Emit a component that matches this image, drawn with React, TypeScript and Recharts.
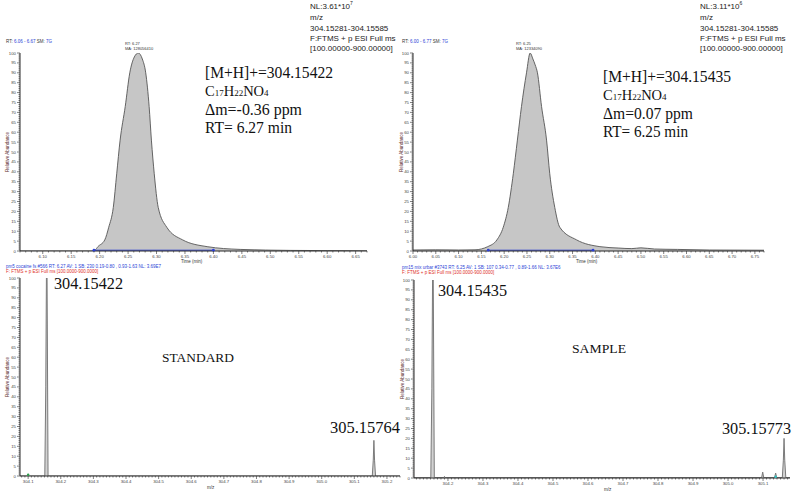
import React from 'react'
import { Area, AreaChart, ReferenceDot, ReferenceLine, XAxis, YAxis } from 'recharts'

// extracted ion chromatograms (time in min, relative abundance in %)
const stdTime = [6.06, 6.1, 6.15, 6.185, 6.192, 6.197, 6.209, 6.216, 6.224, 6.23, 6.236, 6.245, 6.253, 6.261, 6.268, 6.275, 6.281, 6.287, 6.291, 6.296, 6.303, 6.318, 6.346, 6.389, 6.447, 6.535, 6.6, 6.67]
const stdAbund = [0, 0, 0, 0, 0.5, 2.2, 5.6, 12, 22, 39, 56, 73, 90, 98, 100, 97, 90, 73, 56, 39, 22, 12, 5.6, 2.2, 0.8, 0.3, 0.2, 0.1]
const sampTime = [6.0, 6.05, 6.1, 6.136, 6.164, 6.184, 6.198, 6.209, 6.22, 6.229, 6.238, 6.249, 6.257, 6.263, 6.268, 6.273, 6.282, 6.293, 6.3, 6.311, 6.322, 6.359, 6.41, 6.45, 6.48, 6.5, 6.53, 6.58, 6.65, 6.77]
const sampAbund = [0.5, 0.6, 0.5, 0.6, 2.2, 5.6, 12, 22, 39, 56, 73, 90, 100, 97, 94, 90, 73, 56, 39, 22, 12, 5.6, 2.2, 1.5, 1.2, 1.6, 1.0, 0.8, 0.5, 0.4]

// mass spectra (m/z, relative abundance in %)
const stdMz = [304.075, 304.151, 304.154, 304.156, 304.158, 304.161, 305.155, 305.158, 305.16, 305.162, 305.165, 305.24]
const stdInt = [0, 0, 45, 100, 100, 0, 0, 8, 18, 8, 0, 0]
const sampMz = [304.103, 304.151, 304.154, 304.156, 304.158, 304.161, 304.188, 304.19, 304.192, 305.096, 305.099, 305.102, 305.133, 305.136, 305.139, 305.155, 305.158, 305.16, 305.162, 305.165, 305.177]
const sampInt = [0.2, 0.2, 45, 100, 100, 0.2, 0.2, 0.8, 0.2, 0.2, 3, 0.2, 0.2, 2.5, 0.2, 0.2, 9, 20, 9, 0.2, 0.2]

const timeLabelsStd = [6.1, 6.15, 6.2, 6.25, 6.3, 6.35, 6.4, 6.45, 6.5, 6.55, 6.6, 6.65]
const timeLabelsSamp = [6.0, 6.05, 6.1, 6.15, 6.2, 6.25, 6.3, 6.35, 6.4, 6.45, 6.5, 6.55, 6.6, 6.65, 6.7, 6.75]
const mzLabelsStd = [304.1, 304.2, 304.3, 304.4, 304.5, 304.6, 304.7, 304.8, 304.9, 305.0, 305.1, 305.2]
const mzLabelsSamp = [304.2, 304.3, 304.4, 304.5, 304.6, 304.7, 304.8, 304.9, 305.0, 305.1]
const yLabels = [0, 5, 10, 15, 20, 25, 30, 35, 40, 45, 50, 55, 60, 65, 70, 75, 80, 85, 90, 95, 100]

const AXIS = '#2a2a2a'
const TICK_FONT = 'Liberation Sans, Arial, sans-serif'
const SERIF = 'Liberation Serif, Times New Roman, serif'

function steps(from: number, to: number, step: number) {
  const out: number[] = []
  const n = Math.round((to - from) / step)
  for (let i = 0; i <= n; i++) out.push(Math.round((from + i * step) * 1000) / 1000)
  return out
}

const isIn = (list: number[], v: number) => list.some((l) => Math.abs(l - v) < 1e-6)

function XTick(props: any) {
  const { x, y, payload, labels, digits } = props
  const major = isIn(labels, payload.value)
  return (
    <g>
      <line x1={x} x2={x} y1={y} y2={y + (major ? 3 : 1.5)} stroke={AXIS} strokeWidth={0.6} />
      {major && (
        <text x={x} y={y + 6.5} textAnchor="middle" fontSize={4.3} fill="#444" fontFamily={TICK_FONT}>
          {payload.value.toFixed(digits)}
        </text>
      )}
    </g>
  )
}

function YTick(props: any) {
  const { x, y, payload } = props
  const major = isIn(yLabels, payload.value)
  return (
    <g>
      <line x1={x} x2={x - (major ? 3 : 1.5)} y1={y} y2={y} stroke={AXIS} strokeWidth={0.6} />
      {major && (
        <text x={x - 4} y={y + 1.5} textAnchor="end" fontSize={4.3} fill="#444" fontFamily={TICK_FONT}>
          {payload.value}
        </text>
      )}
    </g>
  )
}

const yTicks = steps(0, 100, 1)

function Txt({ left, top, size, children, color = '#222', family = TICK_FONT }: any) {
  return (
    <div style={{ position: 'absolute', left, top, fontSize: size, lineHeight: 1.15, color, fontFamily: family, whiteSpace: 'nowrap' }}>
      {children}
    </div>
  )
}

function YTitle({ left, top }: { left: number; top: number }) {
  return (
    <div
      style={{
        position: 'absolute',
        left,
        top,
        transform: 'translate(-50%, -50%) rotate(-90deg)',
        fontSize: 4.5,
        color: '#5a2a2a',
        fontFamily: TICK_FONT,
        whiteSpace: 'nowrap',
      }}
    >
      Relative Abundance
    </div>
  )
}

// serif text squeezed to the measured width
function SText({ x, y, w, size = 16, children }: any) {
  return (
    <text x={x} y={y} fontSize={size} fontFamily={SERIF} fill="#111" textLength={w} lengthAdjust="spacingAndGlyphs">
      {children}
    </text>
  )
}

const sub = { fontSize: '0.62em' }

function Formula({ left, top }: { left: number; top: number }) {
  return (
    <Txt left={left} top={top} size={14.5} family={SERIF} color="#111">
      C<span style={sub}>17</span>H<span style={sub}>22</span>NO<span style={sub}>4</span>
    </Txt>
  )
}

function InfoBlock({ x, y, mass, delta, rt, widths }: any) {
  return (
    <>
      <SText x={x} y={y} w={widths[0]}>[M+H]+={mass}</SText>
      <SText x={x} y={y + 37} w={widths[1]}>Δm={delta} ppm</SText>
      <SText x={x} y={y + 55} w={widths[2]}>RT= {rt} min</SText>
    </>
  )
}

function NLBlock({ left, nl, exp }: any) {
  return (
    <>
      <Txt left={left} top={1} size={8}>NL:{nl}*10<sup style={{ fontSize: 5 }}>{exp}</sup></Txt>
      <Txt left={left} top={13} size={8}>m/z</Txt>
      <Txt left={left} top={24} size={8}>304.15281-304.15585</Txt>
      <Txt left={left} top={34} size={8}>F:FTMS + p ESI Full ms</Txt>
      <Txt left={left} top={44} size={8}>[100.00000-900.00000]</Txt>
    </>
  )
}

function Chromatogram({ time, abund, domain, labels, intStart, intEnd, right }: any) {
  const data = time.map((t: number, i: number) => ({ t, a: abund[i] }))
  const ticks = steps(domain[0], domain[1], 0.01)
  return (
    <AreaChart width={380} height={225} data={data} margin={{ top: 8, right, bottom: 0, left: 0 }}>
      <XAxis
        dataKey="t"
        type="number"
        domain={domain}
        allowDataOverflow
        ticks={ticks}
        interval={0}
        tickLine={false}
        tickSize={0}
        tickMargin={0}
        height={19}
        stroke={AXIS}
        tick={(p: any) => <XTick {...p} labels={labels} digits={2} />}
      />
      <YAxis
        type="number"
        domain={[0, 100]}
        allowDataOverflow
        ticks={yTicks}
        interval={0}
        tickLine={false}
        tickSize={0}
        tickMargin={0}
        width={20}
        stroke={AXIS}
        tick={(p: any) => <YTick {...p} />}
      />
      <Area type="monotone" dataKey="a" stroke="#555" strokeWidth={0.9} fill="#c6c6c6" fillOpacity={1} isAnimationActive={false} />
      <ReferenceLine segment={[{ x: intStart, y: 0.4 }, { x: intEnd, y: 0.4 }]} stroke="#2b3fd6" strokeWidth={1} />
      <ReferenceDot x={intStart} y={0.4} r={1.4} fill="#2b3fd6" stroke="none" />
      <ReferenceDot x={intEnd} y={0.4} r={1.4} fill="#2b3fd6" stroke="none" />
    </AreaChart>
  )
}

function Spectrum({ mz, inten, domain, labels, width, height, right, marks }: any) {
  const data = mz.map((m: number, i: number) => ({ m, v: inten[i] }))
  const ticks = steps(Math.ceil(domain[0] * 100) / 100, Math.floor(domain[1] * 100) / 100, 0.01)
  return (
    <AreaChart width={width} height={height} data={data} margin={{ top: 8, right, bottom: 0, left: 0 }}>
      <XAxis
        dataKey="m"
        type="number"
        domain={domain}
        allowDataOverflow
        ticks={ticks}
        interval={0}
        tickLine={false}
        tickSize={0}
        tickMargin={0}
        height={height - 8 - 198}
        stroke={AXIS}
        tick={(p: any) => <XTick {...p} labels={labels} digits={1} />}
      />
      <YAxis
        type="number"
        domain={[0, 100]}
        allowDataOverflow
        ticks={yTicks}
        interval={0}
        tickLine={false}
        tickSize={0}
        tickMargin={0}
        width={20}
        stroke={AXIS}
        tick={(p: any) => <YTick {...p} />}
      />
      <Area type="linear" dataKey="v" stroke="#7a7a7a" strokeWidth={1} fill="#d2d2d2" fillOpacity={1} isAnimationActive={false} />
      {marks.map((mk: any) => (
        <ReferenceDot key={mk.x} x={mk.x} y={0.6} r={1.2} fill={mk.color} stroke="none" />
      ))}
    </AreaChart>
  )
}

export default function App() {
  const small = { fontFamily: TICK_FONT, fontSize: 4.5 }
  return (
    <div style={{ position: 'absolute', left: 0, top: 0, width: 799, height: 496, background: '#fff', overflow: 'hidden' }}>
      {/* top left: standard XIC */}
      <div style={{ position: 'absolute', left: 0, top: 45 }}>
        <Chromatogram time={stdTime} abund={stdAbund} domain={[6.06, 6.67]} labels={timeLabelsStd} intStart={6.19} intEnd={6.4} right={13} />
      </div>
      {/* top right: sample XIC */}
      <div style={{ position: 'absolute', left: 393, top: 45 }}>
        <Chromatogram time={sampTime} abund={sampAbund} domain={[6.0, 6.77]} labels={timeLabelsSamp} intStart={6.165} intEnd={6.395} right={9} />
      </div>
      {/* bottom left: standard spectrum */}
      <div style={{ position: 'absolute', left: 0, top: 270 }}>
        <Spectrum mz={stdMz} inten={stdInt} domain={[304.075, 305.24]} labels={mzLabelsStd} width={410} height={225} right={10} marks={[{ x: 304.1, color: '#2a9d4a' }]} />
      </div>
      {/* bottom right: sample spectrum */}
      <div style={{ position: 'absolute', left: 394, top: 272 }}>
        <Spectrum mz={sampMz} inten={sampInt} domain={[304.103, 305.177]} labels={mzLabelsSamp} width={400} height={224} right={4} marks={[{ x: 305.136, color: '#2ec4c4' }]} />
      </div>

      {/* headers */}
      <div style={{ position: 'absolute', left: 6, top: 39, whiteSpace: 'nowrap', ...small }}>
        <span style={{ color: '#333' }}>RT: </span><span style={{ color: '#2b3fd6' }}>6.06 - 6.67</span>
        <span style={{ color: '#333' }}> SM: </span><span style={{ color: '#2b3fd6' }}>7G</span>
      </div>
      <div style={{ position: 'absolute', left: 402, top: 39, whiteSpace: 'nowrap', ...small }}>
        <span style={{ color: '#333' }}>RT: </span><span style={{ color: '#2b3fd6' }}>6.00 - 6.77</span>
        <span style={{ color: '#333' }}> SM: </span><span style={{ color: '#2b3fd6' }}>7G</span>
      </div>
      <div style={{ position: 'absolute', left: 125, top: 42, whiteSpace: 'nowrap', color: '#333', fontFamily: TICK_FONT, fontSize: 4, lineHeight: '4.5px' }}>
        RT: 6.27<br />MA: 128056410
      </div>
      <div style={{ position: 'absolute', left: 516, top: 42, whiteSpace: 'nowrap', color: '#333', fontFamily: TICK_FONT, fontSize: 4, lineHeight: '4.5px' }}>
        RT: 6.25<br />MA: 12334090
      </div>
      <div style={{ position: 'absolute', left: 6, top: 264, whiteSpace: 'nowrap', color: '#2b3fd6', ...small }}>
        pm5 cocaine fs #566 RT: 6.27 AV: 1 SB: 230 0.19-0.80 , 0.93-1.63 NL: 3.69E7
      </div>
      <div style={{ position: 'absolute', left: 6, top: 269, whiteSpace: 'nowrap', color: '#e0302a', ...small }}>
        F: FTMS + p ESI Full ms [100.0000-900.0000]
      </div>
      <div style={{ position: 'absolute', left: 402, top: 265, whiteSpace: 'nowrap', color: '#2b3fd6', ...small }}>
        pm15 mix urbar #3743 RT: 6.25 AV: 1 SB: 107 0.34-0.77 , 0.89-1.66 NL: 3.67E6
      </div>
      <div style={{ position: 'absolute', left: 402, top: 270, whiteSpace: 'nowrap', color: '#e0302a', ...small }}>
        F: FTMS + p ESI Full ms [100.0000-900.0000]
      </div>

      {/* axis titles */}
      <YTitle left={7} top={152} />
      <YTitle left={401} top={152} />
      <YTitle left={7} top={377} />
      <YTitle left={402} top={379} />
      <div style={{ position: 'absolute', left: 181, top: 259, ...small, color: '#333' }}>Time (min)</div>
      <div style={{ position: 'absolute', left: 576, top: 259, ...small, color: '#333' }}>Time (min)</div>
      <div style={{ position: 'absolute', left: 207, top: 485, ...small, color: '#333' }}>m/z</div>
      <div style={{ position: 'absolute', left: 604, top: 487, ...small, color: '#333' }}>m/z</div>

      <NLBlock left={310} nl="3.61" exp="7" />
      <NLBlock left={700} nl="3.11" exp="6" />

      <Formula left={205} top={83} />
      <Formula left={603} top={87} />

      {/* serif annotations */}
      <svg width={799} height={496} style={{ position: 'absolute', left: 0, top: 0, pointerEvents: 'none' }}>
        <InfoBlock x={205} y={78} mass="304.15422" delta="-0.36" rt="6.27" widths={[128, 97, 87]} />
        <InfoBlock x={603} y={82} mass="304.15435" delta="0.07" rt="6.25" widths={[128, 90, 85]} />
        <SText x={54} y={289} w={69}>304.15422</SText>
        <SText x={330} y={433} w={70}>305.15764</SText>
        <SText x={438} y={295.5} w={69}>304.15435</SText>
        <SText x={722} y={433.5} w={69}>305.15773</SText>
        <SText x={162} y={361.5} w={72} size={13}>STANDARD</SText>
        <SText x={572} y={352.5} w={54} size={13.5}>SAMPLE</SText>
      </svg>
    </div>
  )
}
